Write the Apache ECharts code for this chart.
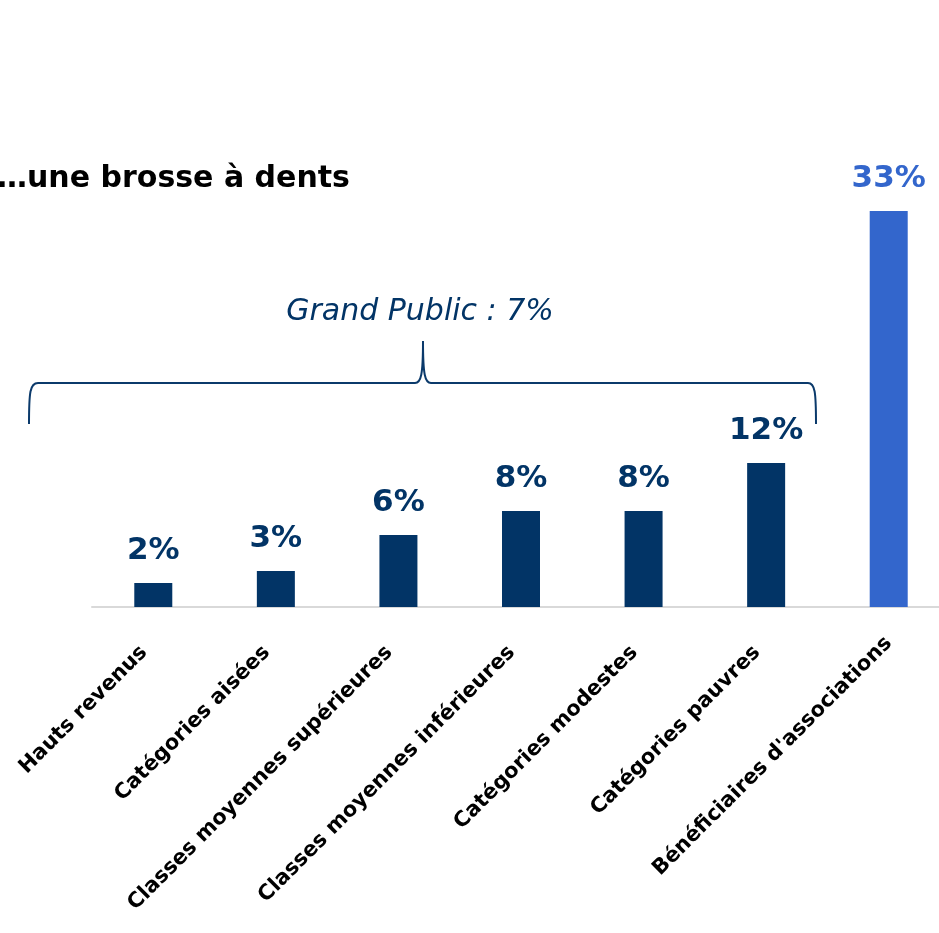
<!DOCTYPE html>
<html>
<head>
<meta charset="utf-8">
<script src="https://cdn.jsdelivr.net/npm/echarts@6/dist/echarts.min.js"></script>
<style>
html,body{margin:0;padding:0;overflow:hidden;background:#fff;}
#chart{width:960px;height:933px;}
</style>
</head>
<body>
<div id="chart"></div>
<script>
const categories = ['Hauts revenus','Catégories aisées','Classes moyennes supérieures','Classes moyennes inférieures','Catégories modestes','Catégories pauvres',"Bénéficiaires d'associations"];
const values = [2, 3, 6, 8, 8, 12, 33];
const titleText = '…une brosse à dents';
const groupLabel = 'Grand Public : 7%';

const DARK = '#023466';
const LIGHT = '#3366CC';
const BRACE = '#0B3A6B';
const FONT = 'DejaVu Sans';
const highlightIndex = 6;

const chart = echarts.init(document.getElementById('chart'));
const data = values.map((v, i) => {
  const c = i === highlightIndex ? LIGHT : DARK;
  return { value: v, itemStyle: { color: c }, label: { color: c } };
});
const catData = categories.map((name, i) => (
  i === highlightIndex ? { value: name, textStyle: { padding: [0, 0, 0, 0] } } : name
));

const braceStyle = { stroke: BRACE, lineWidth: 2, fill: null };
chart.setOption({
  animation: false,
  grid: { left: 92, right: 10, top: 127, height: 480 },
  xAxis: {
    type: 'category',
    data: catData,
    axisLine: { lineStyle: { color: '#D9D9D9', width: 2 } },
    axisTick: { show: false },
    axisLabel: {
      rotate: 45,
      interval: 0,
      margin: 33,
      padding: [0, 13, 0, 0],
      color: '#000',
      fontFamily: FONT,
      fontWeight: 'bold',
      fontSize: 21
    }
  },
  yAxis: { type: 'value', min: 0, max: 40, show: false, splitLine: { show: false } },
  series: [{
    type: 'bar',
    data: data,
    barWidth: 38,
    label: {
      show: true,
      position: 'top',
      distance: 17,
      formatter: '{c}%',
      fontFamily: FONT,
      fontWeight: 'bold',
      fontSize: 31
    }
  }],
  graphic: [
    { type: 'text', x: -3, y: 179, style: { text: titleText, fontFamily: FONT, fontWeight: 'bold', fontSize: 30, fill: '#000', verticalAlign: 'middle' } },
    { type: 'text', x: 420, y: 312, style: { text: groupLabel, fontFamily: FONT, fontStyle: 'italic', fontSize: 30, fill: DARK, align: 'center', verticalAlign: 'middle' } },
    { type: 'bezierCurve', shape: { x1: 29, y1: 424, cpx1: 29, cpy1: 392, cpx2: 30, cpy2: 383, x2: 38, y2: 383 }, style: braceStyle },
    { type: 'line', shape: { x1: 38, y1: 383, x2: 415, y2: 383 }, style: braceStyle },
    { type: 'bezierCurve', shape: { x1: 415, y1: 383, cpx1: 421, cpy1: 383, cpx2: 423, cpy2: 375, x2: 423, y2: 341 }, style: braceStyle },
    { type: 'bezierCurve', shape: { x1: 423, y1: 341, cpx1: 423, cpy1: 375, cpx2: 425, cpy2: 383, x2: 431, y2: 383 }, style: braceStyle },
    { type: 'line', shape: { x1: 431, y1: 383, x2: 808, y2: 383 }, style: braceStyle },
    { type: 'bezierCurve', shape: { x1: 808, y1: 383, cpx1: 815, cpy1: 383, cpx2: 816, cpy2: 392, x2: 816, y2: 424 }, style: braceStyle }
  ]
});
</script>
</body>
</html>
